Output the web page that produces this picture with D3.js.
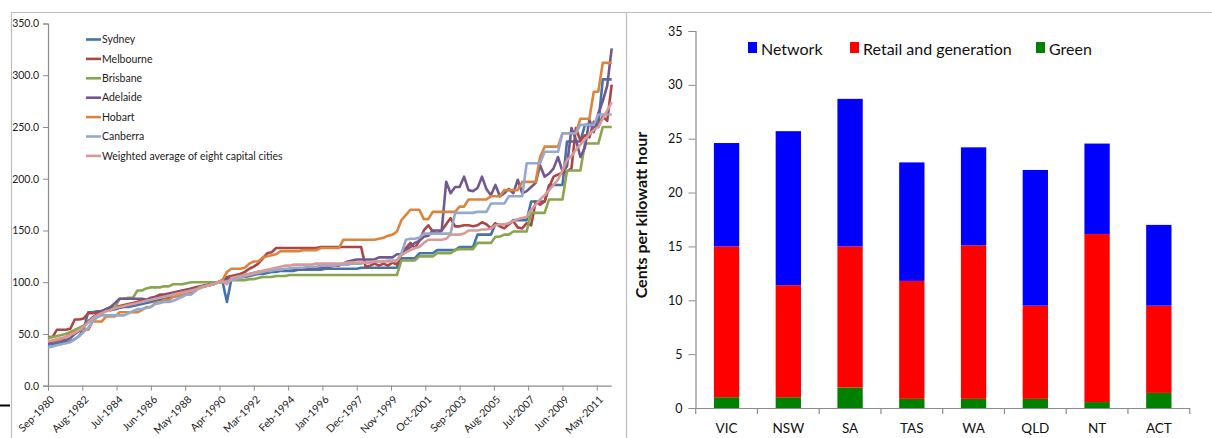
<!DOCTYPE html>
<html><head><meta charset="utf-8">
<script src="https://cdn.jsdelivr.net/npm/d3@7"></script>
<style>
html,body{margin:0;padding:0;background:#fff;}
svg{display:block;}
</style></head>
<body>
<svg id="c" width="1212" height="438"></svg>
<script>
// ---------- LEFT CHART DATA (quarterly, Sep-1980 .. Mar-2012) ----------
const seriesNames = ["Sydney","Melbourne","Brisbane","Adelaide","Hobart","Canberra","Weighted average of eight capital cities"];
const seriesColors = ["#4572A7","#AA4643","#89A54E","#71588F","#DB843D","#93A9CF","#D89A99"];
const xTickLabels = ["Sep-1980","Aug-1982","Jul-1984","Jun-1986","May-1988","Apr-1990","Mar-1992","Feb-1994","Jan-1996","Dec-1997","Nov-1999","Oct-2001","Sep-2003","Aug-2005","Jul-2007","Jun-2009","May-2011"];
const yTicksLeft = [0,50,100,150,200,250,300,350];

const sydney = [40,40,41,42, 42,43,45,48, 55,71,71,72, 72,73,73,74, 75,76,76,77, 78,79,80,81, 82,83,84,85, 86,87,88,88, 89,92,95,96, 97,99,100,101, 81,103,104,105, 105,106,107,108, 108,109,110,110, 111,111,111,111, 112,112,112,112, 112,112,113,113, 113,113,113,113, 113,113,114,114, 114,114,114,114, 114,114,114,123, 123,123,123,128, 128,128,128,131, 131,131,131,131, 134,134,134,134, 146,146,146,146, 156,156,156,156, 160,160,160,160, 178,178,178,178, 194,194,194,194, 236,236,236,236, 252,252,252,252, 296,296,296];
const melbourne = [47,47,54,54, 54,55,64,64, 65,70,70,71, 72,74,75,76, 77,78,79,80, 81,82,83,85, 86,88,88,89, 90,91,92,93, 94,95,96,97, 98,99,100,102, 105,106,107,108, 110,113,115,118, 123,128,129,133, 133,133,133,133, 133,133,133,133, 133,134,134,134, 134,134,134,134, 134,134,134,115, 116,118,116,118, 116,119,117,128, 133,138,133,140, 150,155,149,147, 150,156,162,154, 154,155,155,154, 155,158,156,152, 157,154,152,156, 159,153,152,157, 155,178,175,178, 192,202,204,206, 207,210,249,237, 242,240,255,250, 260,256,291];
const brisbane = [46,47,48,49, 50,52,54,56, 58,62,65,68, 70,72,74,76, 84,84,85,85, 92,92,94,95, 95,95,96,96, 98,98,98,99, 100,100,100,100, 100,100,100,100, 101,102,102,102, 102,103,103,104, 105,105,105,106, 106,106,107,107, 107,107,107,107, 107,107,107,107, 107,107,107,107, 107,107,107,107, 107,107,107,107, 107,107,107,121, 121,121,121,125, 125,125,125,128, 128,128,128,131, 132,132,132,132, 138,138,138,138, 144,144,146,146, 149,149,149,149, 167,167,167,167, 180,180,180,180, 208,208,208,208, 234,234,234,234, 250,250,250];
const adelaide = [42,42,43,44, 44,46,50,53, 57,62,66,69, 72,74,76,80, 84,84,84,84, 84,84,83,84, 85,86,87,88, 89,90,91,92, 93,94,95,96, 97,98,100,101, 103,104,105,106, 107,108,109,110, 110,111,111,112, 112,112,113,113, 113,113,114,114, 114,114,115,115, 116,116,118,120, 121,122,122,122, 122,122,124,124, 124,124,127,127, 131,134,138,140, 144,145,150,150, 150,197,186,192, 192,202,189,188, 191,202,190,184, 194,183,186,190, 186,199,186,188, 192,196,213,202, 205,210,221,207, 212,249,238,221, 230,257,245,263, 275,290,326];
const hobart = [43,43,44,45, 47,50,52,54, 54,54,62,62, 62,67,67,67, 71,71,71,71, 71,73,76,76, 80,80,83,83, 86,87,88,89, 91,93,95,96, 97,98,100,102, 110,113,113,113, 114,118,120,120, 124,125,126,127, 130,130,130,130, 130,131,131,131, 131,133,133,133, 133,133,141,141, 141,141,141,141, 141,141,142,143, 145,146,149,160, 165,170,170,170, 161,161,168,168, 168,168,168,168, 173,173,180,180, 180,180,180,183, 183,183,189,189, 189,189,197,197, 197,197,221,231, 231,231,231,244, 244,244,244,258, 258,258,284,284, 312,312,312];
const canberra = [37,38,39,40, 41,42,45,48, 52,56,62,66, 68,68,68,68, 68,68,70,72, 74,74,75,76, 79,80,81,81, 82,84,86,88, 88,92,95,96, 97,98,100,100, 101,102,103,104, 106,107,108,109, 110,111,111,112, 112,113,113,114, 114,114,115,115, 115,116,116,116, 116,117,117,117, 118,118,118,119, 119,120,120,120, 121,121,121,128, 141,142,142,143, 147,147,147,147, 147,147,147,167, 167,167,167,167, 168,168,168,176, 176,176,176,183, 183,183,183,215, 215,215,215,226, 226,226,226,244, 244,244,244,252, 252,252,252,262, 262,262,262];
const weighted = [43,44,45,46, 47,49,51,54, 57,61,65,68, 70,72,73,75, 76,77,78,79, 80,81,82,83, 84,85,86,87, 88,89,90,91, 92,93,94,96, 97,98,100,101, 98,104,105,106, 107,108,109,110, 111,112,113,114, 115,116,116,117, 117,117,117,117, 118,118,118,118, 118,118,118,119, 119,119,119,119, 119,120,120,120, 120,120,121,126, 129,131,133,134, 138,141,141,141, 141,142,146,146, 146,147,150,150, 150,151,151,152, 155,156,156,157, 159,161,162,163, 170,175,180,184, 189,194,199,208, 218,222,228,233, 238,243,247,250, 258,266,274];
const seriesValues = [sydney, melbourne, brisbane, adelaide, hobart, canberra, weighted];

// ---------- RIGHT CHART DATA ----------
const states = ["VIC","NSW","SA","TAS","WA","QLD","NT","ACT"];
const green   = [1.0, 1.0, 1.9, 0.85, 0.85, 0.85, 0.55, 1.4];
const retail  = [14.0, 10.4, 13.1, 10.95, 14.25, 8.65, 15.6, 8.1];
const network = [9.6, 14.3, 13.7, 11.0, 9.1, 12.6, 8.4, 7.5];
const stackKeys = ["Green","Retail and generation","Network"];
const stackColors = {"Network":"#0000FF","Retail and generation":"#FF0000","Green":"#008000"};
const legendOrder = ["Network","Retail and generation","Green"];
const yTicksRight = [0,5,10,15,20,25,30,35];

const svg = d3.select("#c");
const axisCol = "#8c8c8c";
const frameCol = "#bdbdbd";

// frames
svg.append("line").attr("x1",11).attr("x2",1212).attr("y1",12.5).attr("y2",12.5).attr("stroke",frameCol).attr("stroke-width",1.2);
svg.append("line").attr("x1",11.5).attr("x2",11.5).attr("y1",12).attr("y2",438).attr("stroke",frameCol).attr("stroke-width",1.2);
svg.append("line").attr("x1",626.5).attr("x2",626.5).attr("y1",12).attr("y2",438).attr("stroke",frameCol).attr("stroke-width",1.2);
svg.append("line").attr("x1",0).attr("x2",10).attr("y1",405.5).attr("y2",405.5).attr("stroke","#000").attr("stroke-width",2);

// ---------- LEFT CHART ----------
const fontL = "Lato, 'Open Sans', sans-serif";
const startDate = new Date(1980,8,1);
const quarterDates = d3.range(sydney.length).map(i => d3.timeMonth.offset(startDate, 3*i));
const xL = d3.scaleTime().domain([startDate, new Date(2012,2,1)]).range([48, 611.7]);
const yL = d3.scaleLinear().domain([0,350]).range([385.7, 23.5]);
const parseT = d3.timeParse("%b-%Y");

const gL = svg.append("g");
// y axis
const yAxisL = d3.axisLeft(yL).tickValues(yTicksLeft).tickFormat(d3.format(".1f")).tickSize(5).tickPadding(4);
const gyL = gL.append("g").attr("transform","translate(48,0)").call(yAxisL);
gyL.select(".domain").attr("stroke",axisCol).attr("stroke-width",1.2);
gyL.selectAll(".tick line").attr("stroke",axisCol);
gyL.selectAll("text").attr("font-family",fontL).attr("font-size",10.5).attr("fill","#222");
// x axis
const xAxisL = d3.axisBottom(xL).tickValues(xTickLabels.map(parseT)).tickFormat((d,i)=>xTickLabels[i]).tickSize(5);
const gxL = gL.append("g").attr("transform","translate(0,385.7)").call(xAxisL);
gxL.select(".domain").attr("stroke",axisCol).attr("stroke-width",1.2).attr("d","M48,0.5H611.7");
gxL.selectAll(".tick line").attr("stroke",axisCol);
gxL.selectAll("text").attr("font-family",fontL).attr("font-size",10.5).attr("fill","#222")
  .attr("text-anchor","end").attr("dy","0.35em")
  .attr("transform","translate(4,12) rotate(-45)").attr("y",0).attr("x",0);

// lines
const lineGen = d3.line().x((d,i)=>xL(quarterDates[i])).y(d=>yL(d));
seriesValues.forEach((vals,k)=>{
  gL.append("path").datum(vals).attr("d",lineGen).attr("fill","none")
    .attr("stroke",seriesColors[k]).attr("stroke-width",2.6).attr("stroke-linejoin","round");
});
// legend
const legL = gL.append("g");
seriesNames.forEach((n,k)=>{
  const y = 39.5 + k*19.4;
  legL.append("line").attr("x1",86).attr("x2",101).attr("y1",y).attr("y2",y).attr("stroke",seriesColors[k]).attr("stroke-width",2.6);
  legL.append("text").attr("x",102).attr("y",y).attr("dy","0.35em").attr("font-family",fontL).attr("font-size",10.5).attr("fill","#222").text(n);
});

// ---------- RIGHT CHART ----------
const fontR = "Lato, 'Open Sans', sans-serif";
const xR = d3.scaleBand().domain(states).range([695.7, 1189.7]).paddingInner(0).paddingOuter(0);
const yR = d3.scaleLinear().domain([0,35]).range([408, 31]);
const gR = svg.append("g");

const tableR = states.map((s,i)=>({state:s,"Green":green[i],"Retail and generation":retail[i],"Network":network[i]}));
const stacked = d3.stack().keys(stackKeys)(tableR);
const barW = xR.bandwidth()*0.41;
stacked.forEach(layer=>{
  gR.append("g").selectAll("rect").data(layer).join("rect")
    .attr("x",d=>xR(d.data.state)+xR.bandwidth()/2-barW/2)
    .attr("width",barW)
    .attr("y",d=>yR(d[1]))
    .attr("height",d=>yR(d[0])-yR(d[1]))
    .attr("fill",stackColors[layer.key]);
});

const yAxisR = d3.axisLeft(yR).tickValues(yTicksRight).tickSize(7).tickPadding(6);
const gyR = gR.append("g").attr("transform","translate(695.5,0)").call(yAxisR);
gyR.select(".domain").attr("stroke",axisCol).attr("stroke-width",1.2);
gyR.selectAll(".tick line").attr("stroke",axisCol);
gyR.selectAll("text").attr("font-family",fontR).attr("font-size",12.5).attr("fill","#111");

const xAxisR = d3.axisBottom(xR).tickSize(0).tickPadding(15);
const gxR = gR.append("g").attr("transform","translate(0,408)").call(xAxisR);
gxR.select(".domain").attr("stroke",axisCol).attr("stroke-width",1.2);
gxR.selectAll("text").attr("font-family",fontR).attr("font-size",13.5).attr("fill","#111");
// band boundary ticks
gR.append("g").selectAll("line").data(states.concat(["_end"])).join("line")
  .attr("x1",(d,i)=> i<states.length ? xR(d) : xR.range()[1])
  .attr("x2",(d,i)=> i<states.length ? xR(d) : xR.range()[1])
  .attr("y1",408).attr("y2",414).attr("stroke",axisCol).attr("stroke-width",1.2);

// y title
gR.append("text").attr("transform","translate(647,215) rotate(-90)").attr("text-anchor","middle")
  .attr("font-family",fontR).attr("font-weight","bold").attr("font-size",16).attr("fill","#111")
  .text("Cents per kilowatt hour");

// legend
const legPos = [748, 850, 1036];
legendOrder.forEach((k,i)=>{
  gR.append("rect").attr("x",legPos[i]).attr("y",42).attr("width",9).attr("height",11).attr("fill",stackColors[k]);
  gR.append("text").attr("x",legPos[i]+13).attr("y",55).attr("font-family",fontR).attr("font-size",16).attr("fill","#111").text(k);
});
</script>
</body></html>
